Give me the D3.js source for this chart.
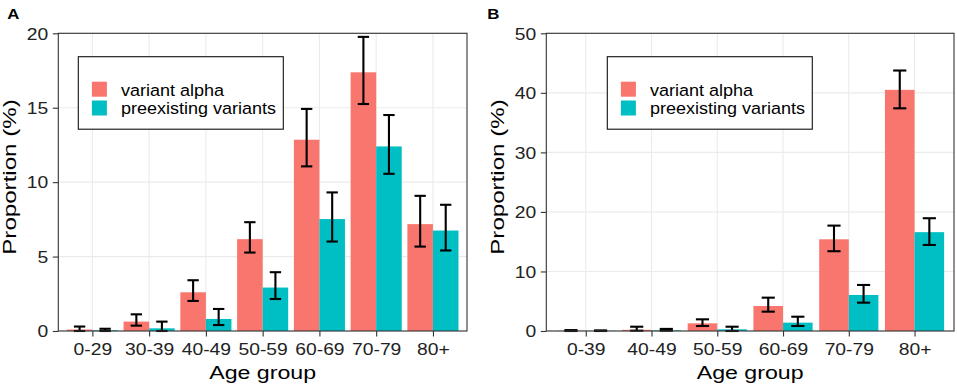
<!DOCTYPE html>
<html>
<head>
<meta charset="utf-8">
<script src="https://cdn.jsdelivr.net/npm/d3@7"></script>
<style>
  html, body { margin: 0; padding: 0; background: #fff; }
  svg { display: block; font-family: "Liberation Sans", Arial, sans-serif; }
</style>
</head>
<body>
<svg id="chart"></svg>
<script>
// ---- data ----
const seriesNames = ["variant alpha", "preexisting variants"];
const seriesColors = ["#F8766D", "#00BFC4"];

// panel A
const catsA = ["0-29", "30-39", "40-49", "50-59", "60-69", "70-79", "80+"];
const alphaA   = [0.10, 0.63, 2.60, 6.17, 12.85, 17.38, 7.18];
const alphaALo = [0.00, 0.36, 2.02, 5.27, 11.06, 15.25, 5.67];
const alphaAHi = [0.30, 1.12, 3.41, 7.31, 14.92, 19.76, 9.08];
const preA     = [0.05, 0.18, 0.81, 2.92, 7.52, 12.40, 6.75];
const preALo   = [0.00, 0.00, 0.40, 2.15, 6.01, 10.56, 5.41];
const preAHi   = [0.15, 0.63, 1.48, 3.95, 9.31, 14.51, 8.48];
const ticksA   = [0, 5, 10, 15, 20];

// panel B
const catsB = ["0-39", "40-49", "50-59", "60-69", "70-79", "80+"];
const alphaB   = [0.03, 0.20, 1.29, 4.20, 15.40, 40.50];
const alphaBLo = [0.00, 0.05, 0.84, 3.25, 13.40, 37.40];
const alphaBHi = [0.15, 0.72, 1.96, 5.60, 17.70, 43.75];
const preB     = [0.03, 0.10, 0.28, 1.40, 6.05, 16.60];
const preBLo   = [0.00, 0.05, 0.00, 0.84, 4.76, 14.45];
const preBHi   = [0.10, 0.35, 0.72, 2.40, 7.73, 18.94];
const ticksB   = [0, 10, 20, 30, 40, 50];

const W = 957, H = 387;
const svg = d3.select("#chart").attr("width", W).attr("height", H);

// text in the figure is noticeably wide for its height; stretch along the baseline
function label(g, str, x, y, o = {}) {
  const t = g.append("text")
    .attr("transform", `translate(${x},${y}) rotate(${o.rotate || 0}) scale(${o.sx || 1},1)`)
    .attr("font-size", o.size || 16)
    .attr("text-anchor", o.anchor || "start")
    .attr("fill", o.fill || "#000")
    .text(str);
  if (o.weight) t.attr("font-weight", o.weight);
  return t;
}

function drawPanel(cfg) {
  const g = svg.append("g");
  const { left, right, top, bottom } = cfg;

  const x = d3.scalePoint().domain(cfg.cats).range([left, right]).padding(0.6);
  const y = d3.scaleLinear().domain([0, cfg.yMax]).range([bottom, top]);
  const step = x.step();
  const barW = step * 0.45;
  const capW = step * 0.2;

  // grid
  g.append("rect").attr("x", left).attr("y", top)
    .attr("width", right - left).attr("height", bottom - top).attr("fill", "#fff");
  g.selectAll(".hg").data(cfg.ticks).join("line")
    .attr("x1", left).attr("x2", right)
    .attr("y1", d => y(d)).attr("y2", d => y(d))
    .attr("stroke", "#EBEBEB").attr("stroke-width", 1.1);
  g.selectAll(".vg").data(cfg.cats).join("line")
    .attr("x1", d => x(d)).attr("x2", d => x(d))
    .attr("y1", top).attr("y2", bottom)
    .attr("stroke", "#EBEBEB").attr("stroke-width", 1.1);

  // bars + error bars, one series at a time
  cfg.series.forEach((s, si) => {
    const rows = cfg.cats.map((c, i) => ({ c, v: s.v[i], lo: s.lo[i], hi: s.hi[i] }));
    const off = si === 0 ? -barW : 0;
    g.selectAll(null).data(rows).join("rect")
      .attr("x", d => x(d.c) + off)
      .attr("y", d => y(d.v))
      .attr("width", barW)
      .attr("height", d => y(0) - y(d.v))
      .attr("fill", seriesColors[si]);

    const eb = g.selectAll(null).data(rows).join("g")
      .attr("transform", d => `translate(${x(d.c) + off + barW / 2},0)`)
      .attr("stroke", "#000").attr("stroke-width", 2.1);
    eb.append("line").attr("x1", 0).attr("x2", 0)
      .attr("y1", d => y(d.lo)).attr("y2", d => y(d.hi));
    eb.append("line").attr("x1", -capW / 2).attr("x2", capW / 2)
      .attr("y1", d => y(d.hi)).attr("y2", d => y(d.hi));
    eb.append("line").attr("x1", -capW / 2).attr("x2", capW / 2)
      .attr("y1", d => y(d.lo)).attr("y2", d => y(d.lo));
  });

  // border
  g.append("rect").attr("x", left).attr("y", top)
    .attr("width", right - left).attr("height", bottom - top)
    .attr("fill", "none").attr("stroke", "#333").attr("stroke-width", 1.1);

  // axes
  const tickSx = 1.17;
  const ya = g.append("g").attr("transform", `translate(${left},0)`)
    .call(d3.axisLeft(y).tickValues(cfg.ticks).tickSize(5.5).tickPadding(0));
  ya.select(".domain").remove();
  ya.selectAll("line").attr("stroke", "#333").attr("stroke-width", 1.1);
  ya.selectAll("text")
    .attr("x", null).attr("dy", null)
    .attr("transform", `translate(-10,5.8) scale(${tickSx},1)`)
    .attr("font-size", 16.5).attr("font-family", null).attr("fill", "#222");

  const xa = g.append("g").attr("transform", `translate(0,${bottom})`)
    .call(d3.axisBottom(x).tickSize(5.5).tickPadding(0));
  xa.select(".domain").remove();
  xa.selectAll("line").attr("stroke", "#333").attr("stroke-width", 1.1);
  xa.selectAll("text")
    .attr("y", null).attr("dy", null)
    .attr("transform", `translate(0,23.8) scale(${tickSx},1)`)
    .attr("font-size", 16.5).attr("font-family", null).attr("fill", "#222");

  // titles
  label(g, "Age group", (left + right) / 2, 379, { size: 19, sx: 1.22, anchor: "middle" });
  label(g, "Proportion (%)", cfg.yTitleX, 177, { size: 19, sx: 1.27, anchor: "middle", rotate: -90 });
  label(g, cfg.tag, cfg.tagX, 18.5, { size: 14, sx: 1.2, weight: "bold" });

  // legend
  const lg = g.append("g").attr("transform", `translate(${cfg.legX},56.7)`);
  lg.append("rect").attr("width", 205).attr("height", 72.5)
    .attr("fill", "#fff").attr("stroke", "#111").attr("stroke-width", 1.1);
  seriesNames.forEach((n, i) => {
    lg.append("rect").attr("x", 13.6).attr("y", 25 + i * 18.8)
      .attr("width", 15).attr("height", 15).attr("fill", seriesColors[i]);
    label(lg, n, 42.6, 38.9 + i * 18.8, { size: 17, sx: 1.06 });
  });
}

drawPanel({
  tag: "A", tagX: 7.3,
  left: 58.3, right: 467, top: 33.3, bottom: 331,
  yMax: 20, ticks: ticksA, cats: catsA,
  series: [
    { v: alphaA, lo: alphaALo, hi: alphaAHi },
    { v: preA, lo: preALo, hi: preAHi }
  ],
  yTitleX: 16, legX: 78.3
});

drawPanel({
  tag: "B", tagX: 487.3,
  left: 546.3, right: 954, top: 33.3, bottom: 331,
  yMax: 50, ticks: ticksB, cats: catsB,
  series: [
    { v: alphaB, lo: alphaBLo, hi: alphaBHi },
    { v: preB, lo: preBLo, hi: preBHi }
  ],
  yTitleX: 504, legX: 607.3
});
</script>
</body>
</html>
